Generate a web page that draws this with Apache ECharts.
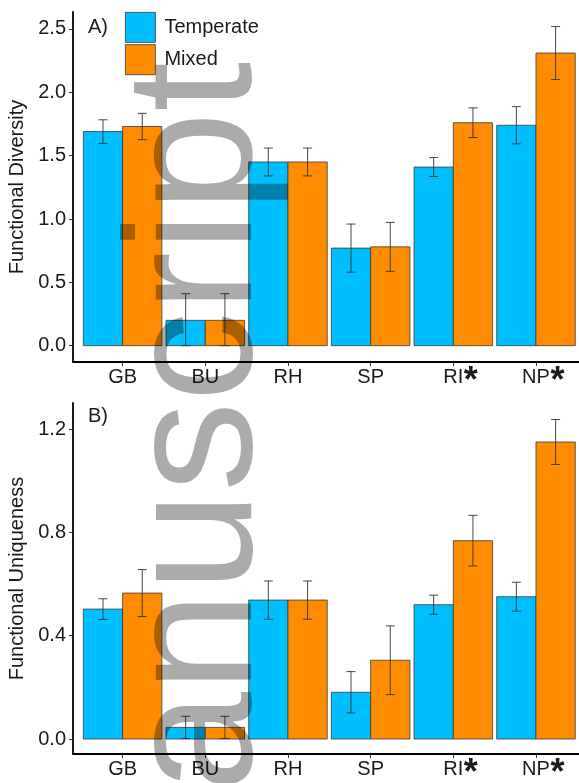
<!DOCTYPE html>
<html>
<head>
<meta charset="utf-8">
<script src="https://cdn.jsdelivr.net/npm/echarts@6/dist/echarts.min.js"></script>
<style>
html,body{margin:0;padding:0;background:#fff;}
#chart{width:579px;height:783px;}
</style>
</head>
<body>
<div id="chart"></div>
<script>
// ---- data ----
var categories = ['GB', 'BU', 'RH', 'SP', 'RI', 'NP'];
var significant = [false, false, false, false, true, true];
var seriesNames = ['Temperate', 'Mixed'];

var fdTemperate   = [1.69, 0.20, 1.45, 0.77, 1.41, 1.74];
var fdTemperateSE = [0.093, 0.21, 0.11, 0.19, 0.075, 0.147];
var fdMixed       = [1.73, 0.20, 1.45, 0.78, 1.76, 2.31];
var fdMixedSE     = [0.104, 0.21, 0.11, 0.193, 0.117, 0.209];

var fuTemperate   = [0.503, 0.045, 0.538, 0.181, 0.520, 0.551];
var fuTemperateSE = [0.040, 0.043, 0.074, 0.080, 0.037, 0.056];
var fuMixed       = [0.565, 0.045, 0.538, 0.305, 0.768, 1.150];
var fuMixedSE     = [0.091, 0.043, 0.074, 0.133, 0.098, 0.087];

var fdTicks = [0, 0.5, 1.0, 1.5, 2.0, 2.5];
var fuTicks = [0, 0.4, 0.8, 1.2];

var watermarkText = 'anuscript';

// ---- styles ----
var FONT = "'Liberation Sans', Arial, sans-serif";
var COLORS = ['#00BFFF', '#FF8C00'];
var BAR_W = 0.475;           // bar width in category units
var OFFSETS = [-BAR_W / 2, BAR_W / 2];
var CAP_PX = 9;

function pts(values, se) {
  return values.map(function (v, i) {
    return [i + 1, v, se ? se[i] : 0];
  });
}

function barSeries(name, idx, values, axisIdx) {
  return {
    type: 'custom',
    name: name,
    xAxisIndex: axisIdx, yAxisIndex: axisIdx,
    itemStyle: { color: COLORS[idx], borderColor: '#3a3a3a', borderWidth: 0.8 },
    data: pts(values),
    z: 2,
    renderItem: function (params, api) {
      var x = api.value(0) + OFFSETS[idx];
      var p0 = api.coord([x - BAR_W / 2, api.value(1)]);
      var p1 = api.coord([x + BAR_W / 2, 0]);
      return {
        type: 'rect',
        shape: { x: p0[0], y: p0[1], width: p1[0] - p0[0], height: p1[1] - p0[1] },
        style: { fill: COLORS[idx], stroke: '#3a3a3a', lineWidth: 0.8 }
      };
    }
  };
}

function errSeries(idx, values, se, axisIdx) {
  return {
    type: 'custom',
    xAxisIndex: axisIdx, yAxisIndex: axisIdx,
    data: pts(values, se),
    z: 3,
    silent: true,
    renderItem: function (params, api) {
      var x = api.value(0) + OFFSETS[idx];
      var v = api.value(1), e = api.value(2);
      var top = api.coord([x, v + e]);
      var bot = api.coord([x, Math.max(0, v - e)]);
      var st = { stroke: '#333', lineWidth: 1, opacity: 0.9 };
      return {
        type: 'group',
        children: [
          { type: 'line', shape: { x1: top[0], y1: top[1], x2: bot[0], y2: bot[1] }, style: st },
          { type: 'line', shape: { x1: top[0] - CAP_PX / 2, y1: top[1], x2: top[0] + CAP_PX / 2, y2: top[1] }, style: st },
          { type: 'line', shape: { x1: bot[0] - CAP_PX / 2, y1: bot[1], x2: bot[0] + CAP_PX / 2, y2: bot[1] }, style: st }
        ]
      };
    }
  };
}

function xAxisCfg(gridIndex) {
  var vals = categories.map(function (c, i) { return i + 1; });
  return {
    type: 'value', gridIndex: gridIndex, min: 0.4, max: 6.6,
    splitLine: { show: false },
    axisLine: { show: true, onZero: false, lineStyle: { color: '#000', width: 1.8 } },
    axisTick: { show: true, customValues: vals, length: 4, lineStyle: { color: '#333', width: 1 } },
    axisLabel: {
      customValues: vals,
      margin: 15.5,
      verticalAlign: 'middle',
      lineHeight: 38,
      color: '#1a1a1a',
      fontFamily: FONT, fontSize: 20,
      formatter: function (v) {
        var i = Math.round(v) - 1;
        if (i < 0 || i >= categories.length) return '';
        return significant[i] ? '{sp|}' + categories[i] + '{ast|*}' : categories[i];
      },
      rich: {
        sp: { width: 15, lineHeight: 38 },
        ast: { fontSize: 36, fontFamily: FONT, fontWeight: 'bold', color: '#1a1a1a', width: 15, lineHeight: 36, padding: [10, 0, 0, 0] }
      }
    }
  };
}

function yAxisCfg(gridIndex, min, max, ticks, name) {
  return {
    type: 'value', gridIndex: gridIndex, min: min, max: max,
    name: name, nameLocation: 'middle', nameGap: 37,
    nameTextStyle: { fontFamily: FONT, fontSize: 20, color: '#1a1a1a' },
    splitLine: { show: false },
    axisLine: { show: true, onZero: false, lineStyle: { color: '#000', width: 1.8 } },
    axisTick: { show: true, customValues: ticks, length: 4, lineStyle: { color: '#333', width: 1 } },
    axisLabel: {
      customValues: ticks, margin: 7, color: '#1a1a1a',
      fontFamily: FONT, fontSize: 20,
      formatter: function (v) { return v.toFixed(1); }
    }
  };
}

var chart = echarts.init(document.getElementById('chart'), null, { renderer: 'canvas' });

var option = {
  backgroundColor: '#fff',
  animation: false,
  grid: [
    { left: 73, top: 12, width: 512.6, height: 350, containLabel: false, outerBoundsMode: 'none' },
    { left: 73, top: 403, width: 512.6, height: 351, containLabel: false, outerBoundsMode: 'none' }
  ],
  xAxis: [xAxisCfg(0), xAxisCfg(1)],
  yAxis: [
    yAxisCfg(0, -0.129, 2.634, fdTicks, 'Functional Diversity'),
    yAxisCfg(1, -0.058, 1.301, fuTicks, 'Functional Uniqueness')
  ],
  legend: {
    orient: 'vertical', left: 125, top: 12, padding: 0,
    itemWidth: 30, itemHeight: 30, itemGap: 1.5,
    icon: 'rect',
    textStyle: { fontFamily: FONT, fontSize: 20, color: '#1a1a1a', padding: [0, 0, 0, 4] },
    data: [
      { name: seriesNames[0], itemStyle: { color: COLORS[0], borderColor: '#3a3a3a', borderWidth: 0.8 } },
      { name: seriesNames[1], itemStyle: { color: COLORS[1], borderColor: '#3a3a3a', borderWidth: 0.8 } }
    ]
  },
  graphic: [
    { type: 'text', left: 88, top: 17, style: { text: 'A)', font: '20px ' + FONT, fill: '#1a1a1a' } },
    { type: 'text', left: 88, top: 406, style: { text: 'B)', font: '20px ' + FONT, fill: '#1a1a1a' } },
    {
      type: 'text', x: 111, y: 792, rotation: Math.PI / 2, z: 100, silent: true,
      style: {
        text: watermarkText, font: '180px ' + FONT, fill: '#000', opacity: 0.33,
        textAlign: 'left', verticalAlign: 'top'
      }
    }
  ],
  series: [
    barSeries(seriesNames[0], 0, fdTemperate, 0),
    barSeries(seriesNames[1], 1, fdMixed, 0),
    errSeries(0, fdTemperate, fdTemperateSE, 0),
    errSeries(1, fdMixed, fdMixedSE, 0),
    barSeries(seriesNames[0], 0, fuTemperate, 1),
    barSeries(seriesNames[1], 1, fuMixed, 1),
    errSeries(0, fuTemperate, fuTemperateSE, 1),
    errSeries(1, fuMixed, fuMixedSE, 1)
  ]
};
chart.setOption(option);
</script>
</body>
</html>
